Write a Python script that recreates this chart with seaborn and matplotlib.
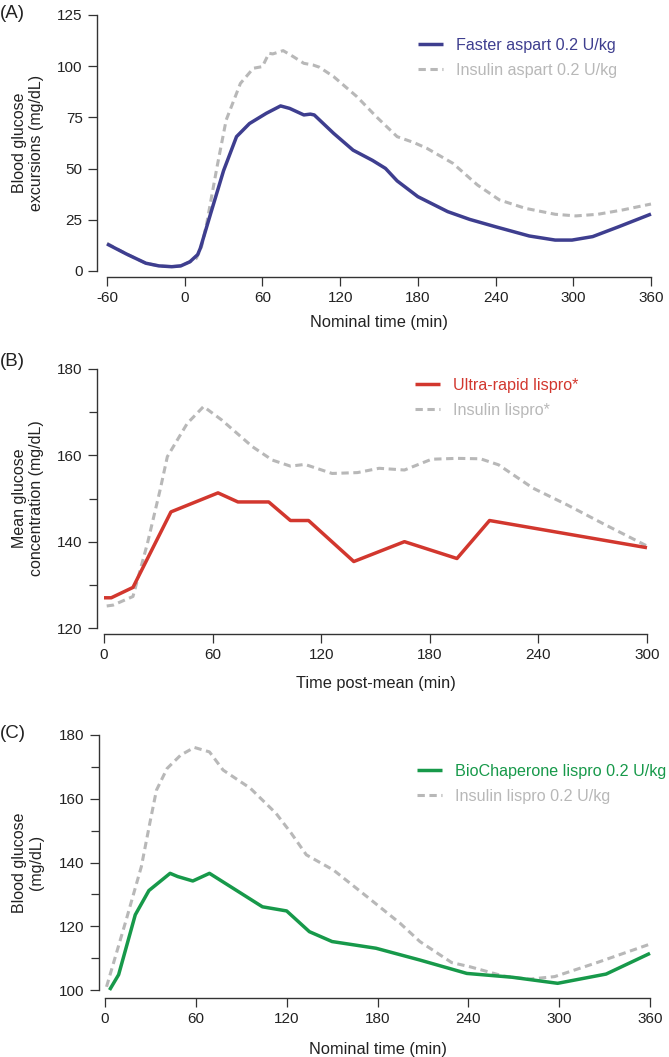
import matplotlib
matplotlib.use("Agg")
import matplotlib.pyplot as plt
import seaborn as sns
import pandas as pd
from matplotlib.ticker import MultipleLocator

# ---------------- data ----------------
# Panel A
a_fast_t = [-60, -45, -30, -20, -10, -3, 4, 10, 12, 20, 30, 40, 50, 63, 74, 81, 92, 97, 100, 115, 130, 145, 155, 164, 180, 203, 220, 240, 266, 286, 299, 315, 335, 360]
a_fast_v = [13.2, 8.3, 3.8, 2.5, 2.1, 2.5, 4.5, 8.0, 11.0, 28, 49, 65.6, 72, 77, 80.6, 79.4, 76.2, 76.6, 76.2, 67.2, 59, 54, 50.1, 44, 36.3, 29, 25.2, 21.6, 17.1, 15.1, 15.1, 16.8, 21.6, 27.8]
a_asp_t = [-60, -45, -30, -20, -10, -3, 4, 9, 13, 17, 25, 32, 43, 53, 60, 65, 68, 76, 84, 92, 99, 104, 115, 133, 148, 164, 177, 187, 207, 226, 243, 263, 286, 302, 319, 338, 360]
a_asp_v = [13.5, 8.3, 3.8, 2.5, 2.1, 2.5, 4.5, 6.2, 11.9, 23.3, 51, 73.7, 91.6, 99, 99.8, 106.3, 106, 107.6, 104.6, 101.4, 100.6, 99.5, 94.9, 85.1, 75.3, 65.6, 62.7, 59.9, 52.6, 42, 34.7, 30.6, 27.7, 26.9, 27.7, 29.8, 32.7]

# Panel B
b_ura_t = [0, 4, 16, 37, 63, 74, 91, 103, 113, 138, 166, 195, 213, 300]
b_ura_v = [127, 127, 129.4, 146.9, 151.3, 149.2, 149.2, 144.9, 144.9, 135.4, 140, 136.1, 144.9, 138.6]
b_lis_t = [1.5, 5, 16, 24, 31, 35, 46, 55, 65, 82, 93, 103, 111, 126, 140, 152, 166, 181, 195, 208, 218, 237, 256, 277, 300]
b_lis_v = [125.1, 125.3, 127.3, 139.6, 152, 159.7, 167.4, 171.3, 168.2, 162, 158.9, 157.5, 157.9, 155.8, 156, 157, 156.6, 159.1, 159.3, 159.2, 157.8, 152.4, 148.5, 143.9, 139]

# Panel C
c_bio_t = [3, 9, 20, 29, 43, 48, 58, 69, 104, 120, 135, 150, 179, 208, 239, 269, 299, 331, 360]
c_bio_v = [100, 104.8, 123.6, 131.2, 136.6, 135.6, 134.2, 136.6, 126.1, 124.8, 118.3, 115.2, 113.1, 109.4, 105.2, 104, 102.1, 105, 111.5]
c_lis_t = [1, 14, 24, 30, 34, 41, 50, 59, 69, 78, 96, 113, 123, 133, 151, 173, 195, 208, 229, 241, 263, 280, 297, 325, 360]
c_lis_v = [101, 122, 138.7, 153.3, 162.7, 169.5, 173.7, 176.1, 174.7, 169, 163.3, 155.4, 149.2, 142.4, 137.6, 129.3, 120.9, 115.2, 108.6, 107.3, 104.4, 103.4, 104.2, 108.6, 114.4]

# ---------------- style ----------------
sns.set_theme(style="ticks")
plt.rcParams["font.family"] = ["Liberation Sans", "DejaVu Sans"]
plt.rcParams["axes.unicode_minus"] = False

W, H = 669, 1057
GRAY = "#b8b8b8"
TXT = "#222222"
fig = plt.figure(figsize=(W / 100, H / 100), dpi=100)


def make_axes(l, r, b, t):
    return fig.add_axes([l / W, 1 - b / H, (r - l) / W, (b - t) / H])


def panel(ax, solid_t, solid_v, solid_lab, solid_col, dash_t, dash_v, dash_lab,
          xlim, ylim, xticks, yticks, yminor, xlabel, ylabel, off_l, off_b,
          leg_xy, letter, letter_y, xlabelpad, ylab_px, left_px, width_px):
    dfd = pd.DataFrame({"t": dash_t, "v": dash_v})
    dfs = pd.DataFrame({"t": solid_t, "v": solid_v})
    sns.lineplot(data=dfd, x="t", y="v", ax=ax, color=GRAY, linewidth=2.2,
                 label=dash_lab, sort=False, estimator=None)
    sns.lineplot(data=dfs, x="t", y="v", ax=ax, color=solid_col, linewidth=2.5,
                 label=solid_lab, sort=False, estimator=None)
    lines = ax.get_lines()
    lines[0].set_dashes((2.4, 1.5))
    for ln in lines:
        ln.set_clip_on(False)
        ln.set_solid_capstyle("butt")
        ln.set_dash_capstyle("butt")
    ax.set_xlim(*xlim)
    ax.set_ylim(*ylim)
    ax.set_xticks(xticks)
    ax.set_yticks(yticks)
    if yminor:
        ax.yaxis.set_minor_locator(MultipleLocator(yminor))
    sns.despine(ax=ax)
    ax.spines["left"].set_position(("outward", off_l * 0.72))
    ax.spines["bottom"].set_position(("outward", off_b * 0.72))
    for s in ("left", "bottom"):
        ax.spines[s].set_linewidth(1.0)
        ax.spines[s].set_color("#333333")
    ax.tick_params(which="major", direction="out", length=6.3, width=0.9,
                   color="#333333", labelsize=11, labelcolor=TXT, pad=4)
    ax.tick_params(which="minor", direction="out", length=5.5, width=0.9,
                   color="#333333")
    ax.set_xlabel(xlabel, fontsize=11.8, color=TXT, labelpad=xlabelpad)
    ax.set_ylabel(ylabel, fontsize=11.5, color=TXT, linespacing=1.15)
    ax.yaxis.set_label_coords((ylab_px - left_px) / width_px, 0.5)
    handles, labels = ax.get_legend_handles_labels()
    order = [1, 0]
    leg = ax.legend([handles[i] for i in order], [labels[i] for i in order],
                    loc="upper left", bbox_to_anchor=(leg_xy[0] / W, 1 - leg_xy[1] / H),
                    bbox_transform=fig.transFigure, frameon=False, fontsize=11.6,
                    handlelength=1.55, handletextpad=0.8, labelspacing=0.6,
                    borderpad=0, borderaxespad=0)
    for txt, ln in zip(leg.get_texts(), leg.get_lines()):
        txt.set_color(ln.get_color())
    fig.text(0.0, 1 - letter_y / H, letter, fontsize=13.5, color=TXT,
             ha="left", va="center")


axA = make_axes(107, 651, 271, 15)
panel(axA, a_fast_t, a_fast_v, "Faster aspart 0.2 U/kg", "#3e3e8f",
      a_asp_t, a_asp_v, "Insulin aspart 0.2 U/kg",
      (-60, 360), (0, 125), list(range(-60, 361, 60)), list(range(0, 126, 25)), None,
      "Nominal time (min)", "Blood glucose\nexcursions (mg/dL)", 10, 6,
      (418, 38), "(A)", 14, 7, 44, 107, 544)

axB = make_axes(104, 647, 628, 369)
panel(axB, b_ura_t, b_ura_v, "Ultra-rapid lispro*", "#d2372e",
      b_lis_t, b_lis_v, "Insulin lispro*",
      (0, 300), (120, 180), list(range(0, 301, 60)), list(range(120, 181, 20)), 10,
      "Time post-mean (min)", "Mean glucose\nconcentration (mg/dL)", 7, 6,
      (415, 378), "(B)", 362, 10, 44, 104, 543)

axC = make_axes(105, 650, 990, 735)
panel(axC, c_bio_t, c_bio_v, "BioChaperone lispro 0.2 U/kg", "#17994a",
      c_lis_t, c_lis_v, "Insulin lispro 0.2 U/kg",
      (0, 360), (100, 180), list(range(0, 361, 60)), list(range(100, 181, 20)), 10,
      "Nominal time (min)", "Blood glucose\n(mg/dL)", 6, 8,
      (417, 764), "(C)", 733, 11, 44, 105, 545)

fig.savefig("out.png", dpi=100)
